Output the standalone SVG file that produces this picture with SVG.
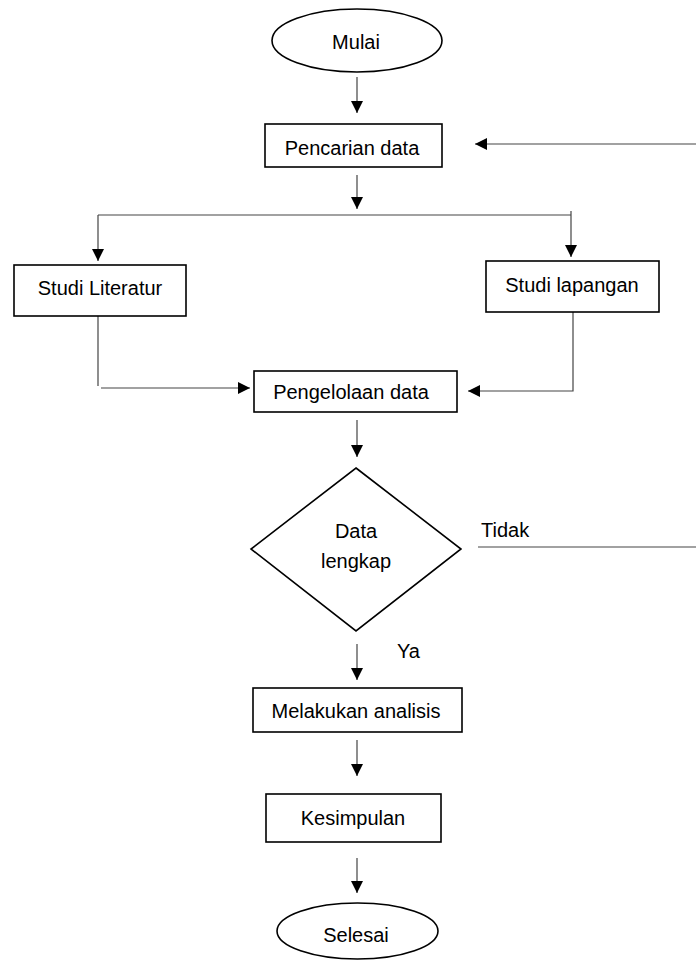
<svg xmlns="http://www.w3.org/2000/svg" width="696" height="960" viewBox="0 0 696 960">
<style>
.box{fill:#fff;stroke:#000;stroke-width:1.6}
.t{font-family:"Liberation Sans",Arial,sans-serif;font-size:20px;fill:#000;text-anchor:middle}
.l{font-family:"Liberation Sans",Arial,sans-serif;font-size:20px;fill:#000}
.c{fill:none;stroke:#444;stroke-width:1.2}
</style>
<defs>
<marker id="ah" markerUnits="userSpaceOnUse" markerWidth="12" markerHeight="12" viewBox="0 0 12 12" refX="12" refY="6" orient="auto">
<path d="M0,0 L12,6 L0,12 Z" fill="#000"/>
</marker>
</defs>
<rect width="696" height="960" fill="#fff"/>
<g id="connectors">
<line class="c" x1="357" y1="77" x2="357" y2="113" marker-end="url(#ah)"/>
<line class="c" x1="357" y1="175" x2="357" y2="209" marker-end="url(#ah)"/>
<line class="c" x1="98" y1="215" x2="571" y2="215"/>
<line class="c" x1="571" y1="211" x2="571" y2="215"/>
<line class="c" x1="98" y1="215" x2="98" y2="261" marker-end="url(#ah)"/>
<line class="c" x1="571" y1="215" x2="571" y2="257" marker-end="url(#ah)"/>
<line class="c" x1="98" y1="316" x2="98" y2="386"/>
<line class="c" x1="101" y1="388" x2="250" y2="388" marker-end="url(#ah)"/>
<polyline class="c" points="573,312 573,391 468,391" marker-end="url(#ah)"/>
<line class="c" x1="357" y1="420" x2="357" y2="457" marker-end="url(#ah)"/>
<line class="c" x1="478" y1="547" x2="696" y2="547"/>
<line class="c" x1="696" y1="144" x2="475" y2="144" marker-end="url(#ah)"/>
<line class="c" x1="357" y1="644" x2="357" y2="680" marker-end="url(#ah)"/>
<line class="c" x1="357" y1="740" x2="357" y2="776" marker-end="url(#ah)"/>
<line class="c" x1="357" y1="858" x2="357" y2="893" marker-end="url(#ah)"/>
<text class="l" x="481" y="537">Tidak</text>
<text class="l" x="397" y="658">Ya</text>
</g>
<g id="mulai">
<ellipse class="box" cx="357" cy="40.5" rx="85" ry="31.5"/>
<text class="t" x="356" y="49">Mulai</text>
</g>
<g id="pencarian">
<rect class="box" x="265" y="124" width="177" height="43"/>
<text class="t" x="352" y="155">Pencarian data</text>
</g>
<g id="literatur">
<rect class="box" x="14" y="265" width="172" height="51"/>
<text class="t" x="100" y="295">Studi Literatur</text>
</g>
<g id="lapangan">
<rect class="box" x="486" y="261" width="173" height="51"/>
<text class="t" x="572" y="292">Studi lapangan</text>
</g>
<g id="pengelolaan">
<rect class="box" x="254" y="371" width="203" height="41"/>
<text class="t" x="351" y="399">Pengelolaan data</text>
</g>
<g id="lengkap">
<polygon class="box" points="356,468 461,549 356,631 251,549"/>
<text class="t" x="356" y="538">Data</text>
<text class="t" x="356" y="568">lengkap</text>
</g>
<g id="analisis">
<rect class="box" x="253" y="688" width="209" height="44"/>
<text class="t" x="356" y="718">Melakukan analisis</text>
</g>
<g id="kesimpulan">
<rect class="box" x="266" y="794" width="175" height="48"/>
<text class="t" x="353" y="825">Kesimpulan</text>
</g>
<g id="selesai">
<ellipse class="box" cx="357.5" cy="931" rx="80.5" ry="28"/>
<text class="t" x="356" y="942">Selesai</text>
</g>
</svg>
